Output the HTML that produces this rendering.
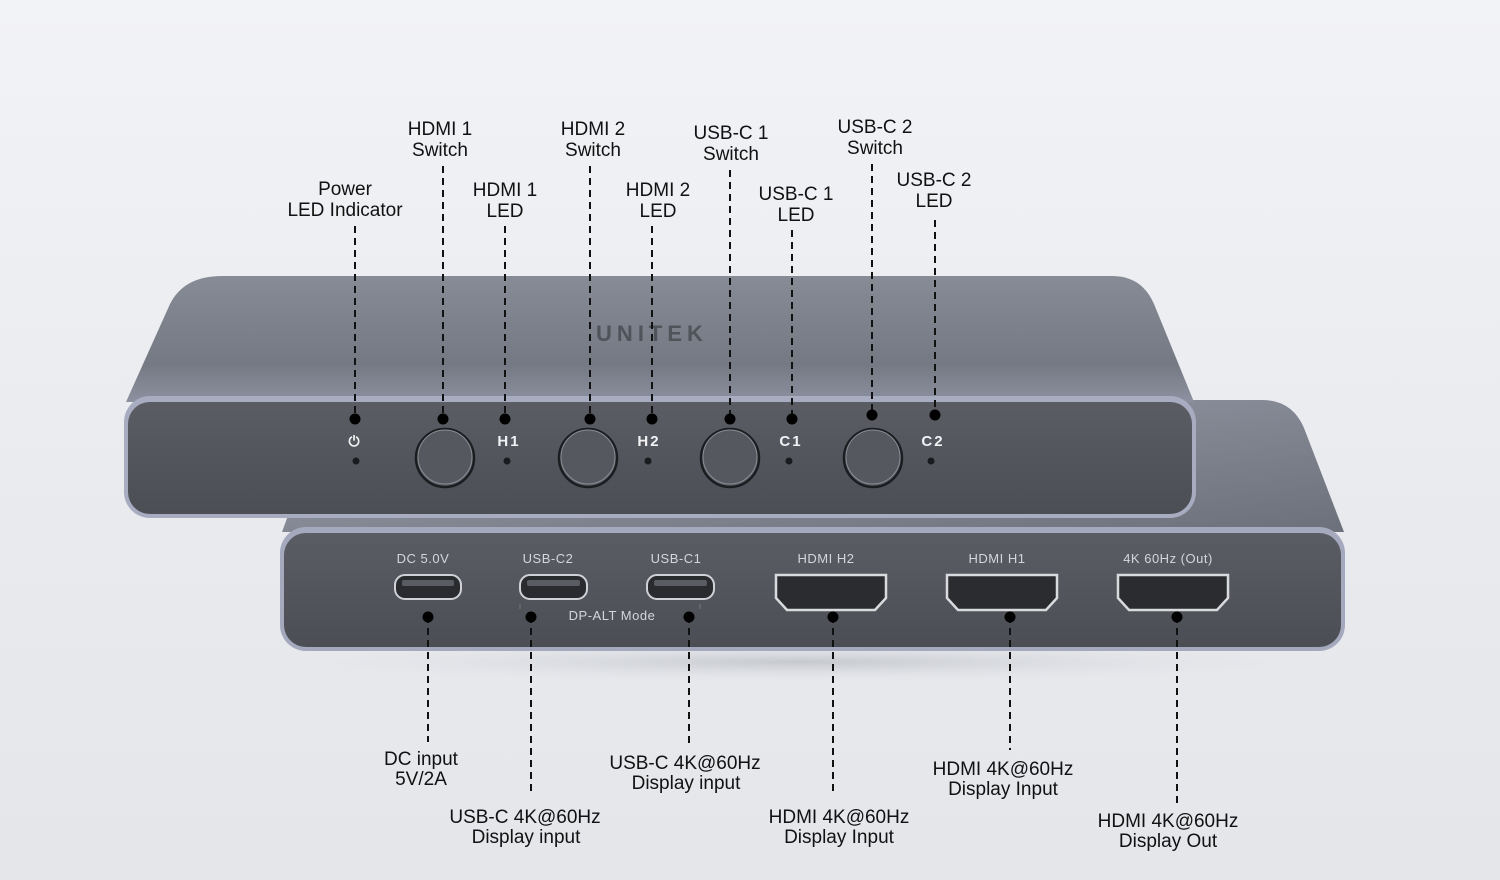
<!DOCTYPE html>
<html><head><meta charset="utf-8"><style>
html,body{margin:0;padding:0;width:1500px;height:880px;overflow:hidden;}
body{background:linear-gradient(180deg,#f2f3f6 0%,#e8eaee 60%,#e4e6ea 100%);font-family:"Liberation Sans",sans-serif;}
svg{position:absolute;left:0;top:0;}
</style></head><body>
<svg width="1500" height="880" viewBox="0 0 1500 880" xmlns="http://www.w3.org/2000/svg">
<defs>
<linearGradient id="top1" x1="0" y1="0" x2="0" y2="1"><stop offset="0" stop-color="#878b95"/><stop offset="0.7" stop-color="#757983"/><stop offset="1" stop-color="#8c91a0"/></linearGradient>
<linearGradient id="top2" x1="0" y1="0" x2="1" y2="1"><stop offset="0" stop-color="#9aa0ad"/><stop offset="1" stop-color="#6c707a"/></linearGradient>
<linearGradient id="face" x1="0" y1="0" x2="0" y2="1"><stop offset="0" stop-color="#5a5d63"/><stop offset="1" stop-color="#4b4e54"/></linearGradient>
<radialGradient id="shadow" cx="0.5" cy="0.5" r="0.5"><stop offset="0" stop-color="#b8bbc1" stop-opacity="0.7"/><stop offset="1" stop-color="#e4e6ea" stop-opacity="0"/></radialGradient>
</defs>
<ellipse cx="800" cy="662" rx="560" ry="22" fill="url(#shadow)"/>
<!-- back device -->
<path d="M330 400 L1262 400 Q1292 400 1304 428 L1344 532 L282 532 Z" fill="url(#top2)"/>
<rect x="280" y="527" width="1065" height="124" rx="26" fill="#a4a9bd"/>
<rect x="284" y="533" width="1057" height="114" rx="22" fill="url(#face)"/>
<!-- top device -->
<path d="M222 276 L1112 276 Q1142 276 1154 304 L1194 402 L126 402 L170 304 Q184 276 222 276 Z" fill="url(#top1)"/>
<text x="652" y="341" text-anchor="middle" font-size="22" font-weight="bold" fill="#50535a" letter-spacing="5">UNITEK</text>
<rect x="124" y="396" width="1072" height="122" rx="26" fill="#a7acc0"/>
<rect x="128" y="402" width="1064" height="112" rx="22" fill="url(#face)"/>
<!-- top face items -->
<g fill="#55585e" stroke="#1c1d20" stroke-width="2.5">
<circle cx="445" cy="458" r="29"/><circle cx="588" cy="458" r="29"/><circle cx="730" cy="458" r="29"/><circle cx="873" cy="458" r="29"/>
</g>
<g fill="none" stroke="#8a8d94" stroke-width="1">
<circle cx="445" cy="457" r="27"/><circle cx="588" cy="457" r="27"/><circle cx="730" cy="457" r="27"/><circle cx="873" cy="457" r="27"/>
</g>
<g fill="#1a1b1e"><circle cx="356" cy="461" r="3.5"/><circle cx="507" cy="461" r="3.5"/><circle cx="648" cy="461" r="3.5"/><circle cx="789" cy="461" r="3.5"/><circle cx="931" cy="461" r="3.5"/></g>
<g fill="#f2f2f4" font-size="15" font-weight="bold" text-anchor="middle" letter-spacing="2">
<text x="509" y="446">H1</text><text x="649" y="446">H2</text><text x="791" y="446">C1</text><text x="933" y="446">C2</text>
<text x="355" y="446" font-size="14">⏻</text>
</g>
<!-- back face ports -->
<g fill="#d4d6db" font-size="13" text-anchor="middle" letter-spacing="0.5">
<text x="423" y="563">DC 5.0V</text><text x="548" y="563">USB-C2</text><text x="676" y="563">USB-C1</text>
<text x="826" y="563">HDMI H2</text><text x="997" y="563">HDMI H1</text><text x="1168" y="563">4K 60Hz (Out)</text>
<text x="612" y="620">DP-ALT Mode</text>
</g>
<path d="M520 604 L520 609 M700 604 L700 609" stroke="#777" stroke-width="1"/>
<g fill="#2a2b2e" stroke="#cfd1d6" stroke-width="2">
<rect x="395" y="575" width="66" height="24" rx="10"/><rect x="520" y="575" width="67" height="24" rx="10"/><rect x="647" y="575" width="67" height="24" rx="10"/>
</g>
<g fill="#595c62"><rect x="402" y="580" width="52" height="6" rx="2"/><rect x="527" y="580" width="53" height="6" rx="2"/><rect x="654" y="580" width="53" height="6" rx="2"/></g>
<g fill="#2b2c2f" stroke="#d8dade" stroke-width="2.5">
<path d="M776 575 L886 575 L886 598 L875 610 L787 610 L776 598 Z"/>
<path d="M947 575 L1057 575 L1057 598 L1046 610 L958 610 L947 598 Z"/>
<path d="M1118 575 L1228 575 L1228 598 L1217 610 L1129 610 L1118 598 Z"/>
</g>
<!-- connectors -->
<g stroke="#111" stroke-width="2" stroke-dasharray="7 5" fill="none">
<path d="M355 226 V418"/><path d="M443 166 V418"/><path d="M505 226 V418"/><path d="M590 166 V418"/><path d="M652 226 V418"/>
<path d="M730 170 V418"/><path d="M792 230 V418"/><path d="M872 164 V415"/><path d="M935 220 V415"/>
<path d="M428 616 V742"/><path d="M531 616 V796"/><path d="M689 616 V746"/><path d="M833 616 V796"/><path d="M1010 616 V750"/><path d="M1177 616 V806"/>
</g>
<g fill="#000">
<circle cx="355" cy="419" r="5.5"/><circle cx="443" cy="419" r="5.5"/><circle cx="505" cy="419" r="5.5"/><circle cx="590" cy="419" r="5.5"/><circle cx="652" cy="419" r="5.5"/>
<circle cx="730" cy="419" r="5.5"/><circle cx="792" cy="419" r="5.5"/><circle cx="872" cy="415" r="5.5"/><circle cx="935" cy="415" r="5.5"/>
<circle cx="428" cy="617" r="5.5"/><circle cx="531" cy="617" r="5.5"/><circle cx="689" cy="617" r="5.5"/><circle cx="833" cy="617" r="5.5"/><circle cx="1010" cy="617" r="5.5"/><circle cx="1177" cy="617" r="5.5"/>
</g>
<!-- labels -->
<g fill="#111" font-size="19" text-anchor="middle">
<text x="345" y="195">Power</text><text x="345" y="216">LED Indicator</text>
<text x="440" y="135">HDMI 1</text><text x="440" y="156">Switch</text>
<text x="505" y="196">HDMI 1</text><text x="505" y="217">LED</text>
<text x="593" y="135">HDMI 2</text><text x="593" y="156">Switch</text>
<text x="658" y="196">HDMI 2</text><text x="658" y="217">LED</text>
<text x="731" y="139">USB-C 1</text><text x="731" y="160">Switch</text>
<text x="796" y="200">USB-C 1</text><text x="796" y="221">LED</text>
<text x="875" y="133">USB-C 2</text><text x="875" y="154">Switch</text>
<text x="934" y="186">USB-C 2</text><text x="934" y="207">LED</text>
<text x="421" y="765">DC input</text><text x="421" y="785">5V/2A</text>
<text x="525" y="823">USB-C 4K@60Hz</text><text x="526" y="843">Display input</text>
<text x="685" y="769">USB-C 4K@60Hz</text><text x="686" y="789">Display input</text>
<text x="839" y="823">HDMI 4K@60Hz</text><text x="839" y="843">Display Input</text>
<text x="1003" y="775">HDMI 4K@60Hz</text><text x="1003" y="795">Display Input</text>
<text x="1168" y="827">HDMI 4K@60Hz</text><text x="1168" y="847">Display Out</text>
</g>
</svg>
</body></html>
